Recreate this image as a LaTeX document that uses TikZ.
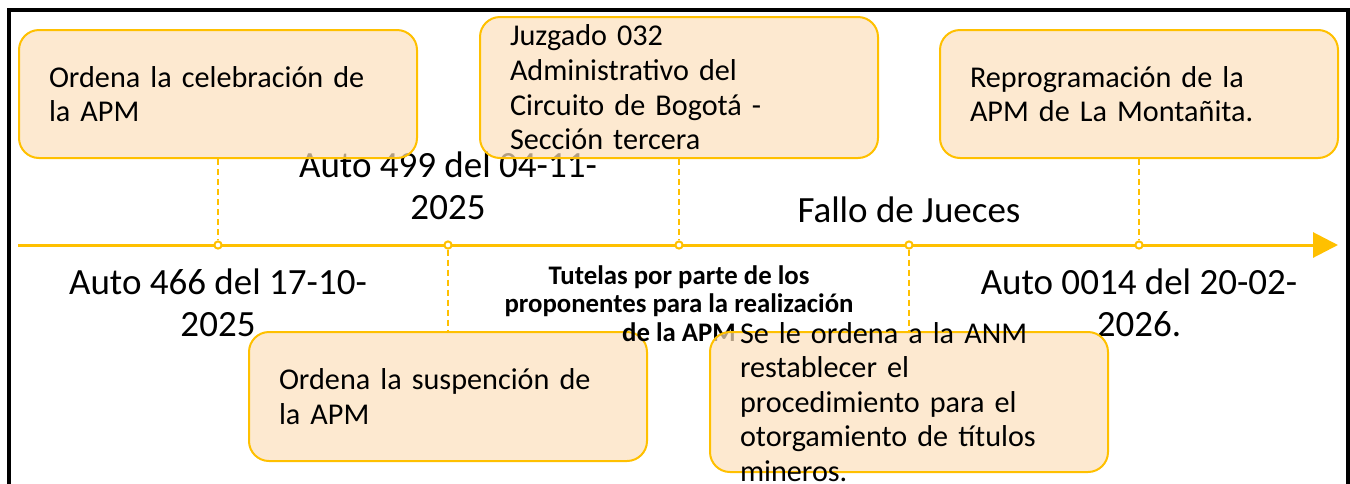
\documentclass[tikz,border=0pt]{standalone}
\usepackage{fontspec}
\setmainfont{Carlito}
\usepackage{tikz}
\usetikzlibrary{arrows.meta}
\definecolor{apmGold}{HTML}{FFC000}
\definecolor{apmPeach}{HTML}{FCE0BC}

\begin{document}
\begin{tikzpicture}[
  x=0.5pt, y=-0.5pt,
  evbox/.style={draw=apmGold, line width=1pt, rounded corners=10pt, fill=apmPeach, fill opacity=0.7, minimum width=199pt, inner sep=0pt},
  evtxt/.style={text width=169pt, align=left, inner sep=0pt, font=\fontsize{15.1}{17.3}\selectfont},
  lbl/.style={align=center, inner sep=0pt, font=\fontsize{18.5}{21}\selectfont},
  tut/.style={align=center, inner sep=0pt, font=\bfseries\fontsize{13.4}{14.25}\selectfont},
  dot/.style={circle, draw=apmGold, fill=white, line width=1pt, inner sep=0pt, minimum size=3.6pt},
  tline/.style={draw=apmGold, line width=1.5pt, -{Triangle[length=12.5pt, width=12.5pt]}},
  conn/.style={draw=apmGold, line width=0.8pt, dash pattern=on 3pt off 2pt}
]
\useasboundingbox (0,0) rectangle (1350,483);
% frame
\draw[line width=2pt] (9,490) -- (9,10) -- (1347.5,10) -- (1347.5,490);

% timeline
\coordinate (tstart) at (18,245);
\coordinate (tend) at (1338,245);
\draw[tline] (tstart) -- (tend);
\foreach \i/\x in {1/218, 2/448, 3/679, 4/909, 5/1139}
  \node[dot] (d\i) at (\x,245) {};

% this one lies under the labels
\node[evbox, minimum height=64.5pt] (b2) at (448,396.5) {};
\node[evtxt] (t2) at (b2) {Ordena la suspención de\\la APM};

% dates under and over the line
\node[lbl, anchor=north] (l1) at (218,268) {Auto 466 del 17-10-\\2025};
\node[lbl, anchor=north] (l2) at (448,151) {Auto 499 del 04-11-\\2025};
\node[tut, anchor=north] (l3) at (679,265) {Tutelas por parte de los\\proponentes para la realización\\de la APM};
\node[lbl, anchor=north] (l4) at (909,196) {Fallo de Jueces};
\node[lbl, anchor=north] (l5) at (1139,268) {Auto 0014 del 20-02-\\2026.};

% events
\node[evbox, minimum height=64pt] (b1) at (218,94) {};
\node[evtxt] (t1) at (b1) {Ordena la celebración de\\la APM};
\node[evbox, minimum height=70.5pt] (b3) at (679,87.5) {};
\node[evtxt] (t3) at (b3) {Juzgado 032\\Administrativo del\\Circuito de Bogotá -\\Sección tercera};
\node[evbox, minimum height=70pt] (b4) at (909,402) {};
\node[evtxt] (t4) at (b4) {Se le ordena a la ANM\\restablecer el\\procedimiento para el\\otorgamiento de títulos\\mineros.};
\node[evbox, minimum height=64pt] (b5) at (1139,94) {};
\node[evtxt] (t5) at (b5) {Reprogramación de la\\APM de La Montañita.};

% connectors
\draw[conn] (b1) -- (d1);
\draw[conn] (d2) -- (b2);
\draw[conn] (b3) -- (d3);
\draw[conn] (d4) -- (b4);
\draw[conn] (b5) -- (d5);
\end{tikzpicture}
\end{document}
